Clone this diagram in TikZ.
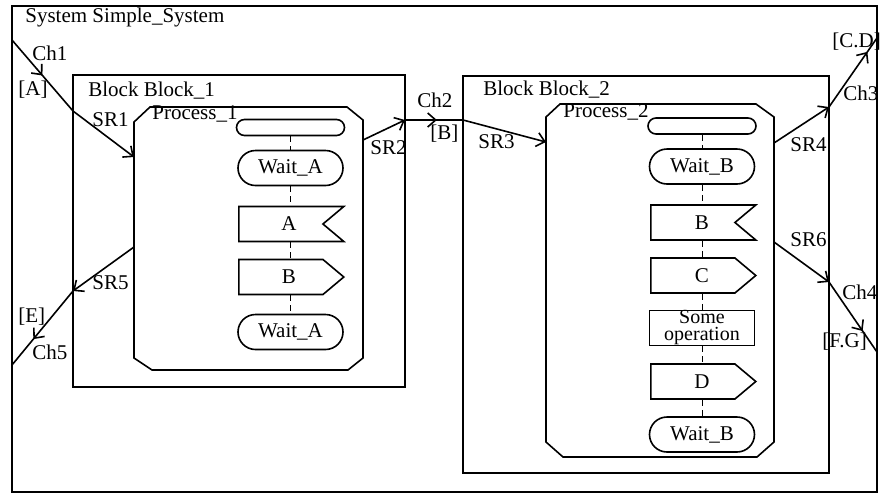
\documentclass[tikz,border=0pt]{standalone}
\usepackage{fontspec}
\setmainfont{Liberation Serif}
\usetikzlibrary{arrows.meta,shapes.misc,shapes.symbols,decorations.markings}
\begin{document}
\begin{tikzpicture}[x=0.5pt,y=-0.5pt,
  every node/.style={font=\fontsize{10.5}{12}\selectfont, inner sep=0pt},
  lbl/.style={anchor=west},
  frame/.style={draw, line width=0.7pt},
  sym/.style={draw, line width=0.8pt, fill=white, minimum width=52.5pt, minimum height=17.5pt},
  startsym/.style={sym, rounded rectangle, minimum height=8pt, minimum width=54pt},
  waitsym/.style={sym, rounded rectangle},
  outsym/.style={sym, signal, signal to=east, signal pointer angle=80, anchor=west},
  insym/.style={sym, signal, signal from=east, signal to=nowhere, signal pointer angle=80, anchor=west},
  tasksym/.style={sym, rectangle},
  flow/.style={densely dashed, line width=0.4pt},
  route/.style={line width=0.8pt, -{Straight Barb[length=4pt,width=7pt]}},
  chan/.style={line width=0.8pt, postaction={decorate},
    decoration={markings, mark=at position #1 with {\arrow{Straight Barb[length=4pt,width=7pt]}}}},
  chan/.default=0.6
]
\useasboundingbox (0,0) rectangle (880,494);
% system frame
\draw[frame] (12,6) rectangle (877,492);
\node[lbl] (sysl) at (25,17) {System Simple\_System};
% blocks
\draw[frame] (73,75) rectangle (405,387);
\node[lbl] (b1l) at (88,91) {Block Block\_1};
\draw[frame] (463,76) rectangle (829,473);
\node[lbl] (b2l) at (483,90) {Block Block\_2};
% processes
\draw[line width=0.8pt] (134,122) -- (150,107) -- (347,107) -- (363,120) -- (363,358) -- (348,370) -- (152,370) -- (134,358) -- cycle;
\node[lbl] (p1l) at (152,114) {Process\_1};
\draw[line width=0.8pt] (546,117) -- (560,104) -- (756,104) -- (774,117) -- (774,442) -- (757,457) -- (563,457) -- (546,442) -- cycle;
\node[lbl] (p2l) at (563,112) {Process\_2};
% process 1 symbols
\node[startsym] (a0) at (290.5,127.5) {};
\node[waitsym] (a1) at (290.5,168) {Wait\_A};
\node[insym] (a2) at (238,224) {};
\node (a2t) at (289,224) {A};
\node[outsym] (a3) at (238,277) {};
\node (a3t) at (289,277) {B};
\node[waitsym] (a4) at (290.5,332) {Wait\_A};
\draw[flow] (a0.south) -- (a1.north);
\draw[flow] (a1.south) -- (a1.south |- a2.north);
\draw[flow] (a1.south |- a2.south) -- (a1.south |- a3.north);
\draw[flow] (a1.south |- a3.south) -- (a4.north);
% process 2 symbols
\node[startsym] (s0) at (702,126) {};
\node[waitsym] (s1) at (702,166.5) {Wait\_B};
\node[insym] (s2) at (650,222.5) {};
\node (s2t) at (702,222.5) {B};
\node[outsym] (s3) at (650,275.5) {};
\node (s3t) at (702,275.5) {C};
\node[tasksym, align=center, font=\fontsize{10}{8.5}\selectfont] (s4) at (702,328) {Some\\operation};
\node[outsym] (s5) at (650,381.5) {};
\node (s5t) at (702,381.5) {D};
\node[waitsym] (s6) at (702,434.5) {Wait\_B};
\draw[flow] (s0.south) -- (s1.north);
\draw[flow] (s1.south) -- (s1.south |- s2.north);
\draw[flow] (s1.south |- s2.south) -- (s1.south |- s3.north);
\draw[flow] (s1.south |- s3.south) -- (s4.north);
\draw[flow] (s4.south) -- (s4.south |- s5.north);
\draw[flow] (s4.south |- s5.south) -- (s6.north);
% connection points
\coordinate (c1) at (12,40);
\coordinate (b1in) at (73,111);
\coordinate (p1in) at (134,157);
\coordinate (p1out) at (363,140);
\coordinate (b1out) at (405,120);
\coordinate (b2in) at (463,120);
\coordinate (p2in) at (546,142);
\coordinate (p2o1) at (774,143);
\coordinate (b2o1) at (829,107);
\coordinate (c3) at (877,38);
\coordinate (p2o2) at (774,242);
\coordinate (b2o2) at (829,282);
\coordinate (c4) at (877,352);
\coordinate (p1o2) at (134,247);
\coordinate (b1o2) at (73,291);
\coordinate (c5) at (12,365);
% channels and signal routes
\draw[chan=0.5] (c1) -- (b1in);
\draw[route] (b1in) -- (p1in);
\draw[route] (p1out) -- (b1out);
\draw[chan=0.55] (b1out) -- (b2in);
\draw[route] (b2in) -- (p2in);
\draw[route] (p2o1) -- (b2o1);
\draw[chan=0.8] (b2o1) -- (c3);
\draw[route] (p2o2) -- (b2o2);
\draw[chan=0.7] (b2o2) -- (c4);
\draw[route] (p1o2) -- (b1o2);
\draw[chan=0.65] (b1o2) -- (c5);
% labels
\node[lbl] (l1) at (32,53) {Ch1};
\node[lbl] (l2) at (18,90) {[A]};
\node[lbl] (l3) at (92,120) {SR1};
\node[lbl] (l4) at (370,148) {SR2};
\node[lbl] (l5) at (417,100) {Ch2};
\node[lbl] (l6) at (430,134) {[B]};
\node[lbl] (l7) at (478,142) {SR3};
\node[lbl] (l8) at (790,145) {SR4};
\node[lbl] (l9) at (843,93) {Ch3};
\node[lbl] (l10) at (832,42) {[C.D]};
\node[lbl] (l11) at (790,240) {SR6};
\node[lbl] (l12) at (842,292) {Ch4};
\node[lbl] (l13) at (822,342) {[F.G]};
\node[lbl] (l14) at (92,283) {SR5};
\node[lbl] (l15) at (18,317) {[E]};
\node[lbl] (l16) at (32,352) {Ch5};
\end{tikzpicture}
\end{document}
